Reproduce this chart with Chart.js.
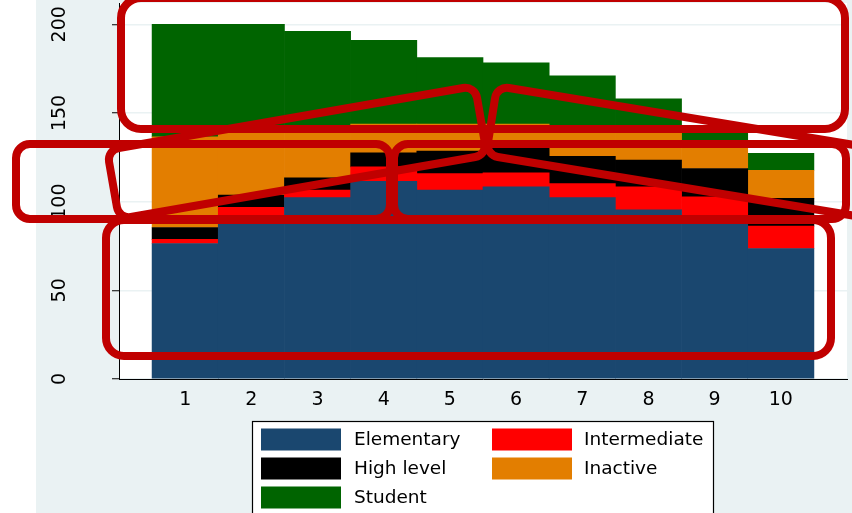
<!DOCTYPE html>
<html>
<head>
<meta charset="utf-8">
<script src="https://cdn.jsdelivr.net/npm/chart.js@4/dist/chart.umd.min.js"></script>
<style>
html, body { margin: 0; padding: 0; background: #ffffff; overflow: hidden; }
canvas { display: block; }
</style>
</head>
<body>
<canvas id="c" width="852" height="513" style="width:852px;height:513px"></canvas>
<script>
// ---- data ----
const categories = [1, 2, 3, 4, 5, 6, 7, 8, 9, 10];
const seriesNames = ['Elementary', 'Intermediate', 'High level', 'Inactive', 'Student'];
const elementary   = [76.4, 89.0, 102.3, 111.5, 106.5, 108.3, 102.3, 95.4, 89.0, 73.6];
const intermediate = [2.3, 7.8, 4.2, 8.1, 9.3, 7.9, 7.9, 12.9, 13.7, 12.6];
const highLevel    = [6.7, 6.9, 6.9, 7.9, 12.7, 13.9, 15.4, 15.1, 16.0, 15.6];
const inactive     = [51.1, 37.1, 27.4, 16.2, 15.2, 13.6, 17.4, 18.0, 14.8, 15.9];
const student      = [63.5, 59.2, 55.2, 47.3, 37.5, 34.5, 27.9, 16.5, 8.5, 9.5];
const yTicks = [0, 50, 100, 150, 200];
const seriesColors = ['#1a476f', '#ff0000', '#000000', '#e37e00', '#006400'];

const seriesValues = [elementary, intermediate, highLevel, inactive, student];
const FONT = '"DejaVu Sans", Verdana, sans-serif';

const datasets = seriesNames.map((name, k) => ({
  label: name,
  data: categories.map((c, i) => ({ x: c, y: seriesValues[k][i] })),
  backgroundColor: seriesColors[k],
  borderWidth: 0,
  categoryPercentage: 1.0,
  barPercentage: 1.0
}));

// ---- decoration: highlight outlines (page pixels) ----
const highlightShapes = [
  { pts: [[121, -2], [845, -2], [845, 129], [121, 129]], r: 20 },
  { pts: [[16, 144], [390, 144], [390, 219], [16, 219]], r: 14 },
  { pts: [[394, 144], [846, 144], [846, 219], [394, 219]], r: 14 },
  { pts: [[106, 220], [831, 220], [831, 356], [106, 356]], r: 18 },
  { pts: [[107, 150], [475, 86], [487, 155], [119, 219]], r: 12 },
  { pts: [[497, 86], [1000, 169], [989, 238], [486, 155]], r: 12 }
];

function roundedPoly(ctx, pts, r) {
  const n = pts.length;
  const mid = (a, b) => [(a[0] + b[0]) / 2, (a[1] + b[1]) / 2];
  const start = mid(pts[n - 1], pts[0]);
  ctx.beginPath();
  ctx.moveTo(start[0], start[1]);
  for (let i = 0; i < n; i++) {
    const p = pts[i], q = pts[(i + 1) % n];
    ctx.arcTo(p[0], p[1], q[0], q[1], r);
  }
  ctx.closePath();
}

const stataPlugin = {
  id: 'stataLook',
  beforeDraw(chart) {
    const ctx = chart.ctx;
    const a = chart.chartArea;
    ctx.save();
    ctx.fillStyle = '#ffffff';
    ctx.fillRect(0, 0, chart.width, chart.height);
    ctx.fillStyle = '#eaf2f3';
    ctx.fillRect(36, 0, chart.width - 36, chart.height);
    ctx.fillStyle = '#ffffff';
    ctx.fillRect(a.left, a.top, a.right - a.left, a.bottom - a.top);
    ctx.restore();
  },
  afterDraw(chart) {
    const ctx = chart.ctx;
    ctx.save();
    // legend box
    const bx = 252.5, by = 421.5, bw = 461, bh = 120;
    ctx.fillStyle = '#ffffff';
    ctx.fillRect(bx, by, bw, bh);
    ctx.strokeStyle = '#000000';
    ctx.lineWidth = 1.2;
    ctx.strokeRect(bx, by, bw, bh);
    const colSwatchX = [261, 492];
    const colTextX = [354, 584];
    const rowY = [439.5, 468.5, 497.5];
    ctx.font = '18.5px ' + FONT;
    ctx.textBaseline = 'middle';
    ctx.textAlign = 'left';
    chart.data.datasets.forEach((ds, i) => {
      const col = i % 2, row = Math.floor(i / 2);
      const y = rowY[row];
      ctx.fillStyle = ds.backgroundColor;
      ctx.fillRect(colSwatchX[col], y - 11, 80, 22);
      ctx.fillStyle = '#000000';
      ctx.fillText(ds.label, colTextX[col], y + 1);
    });
    // highlight outlines
    ctx.strokeStyle = '#c00000';
    ctx.lineWidth = 8;
    ctx.lineJoin = 'round';
    highlightShapes.forEach(s => {
      roundedPoly(ctx, s.pts, s.r);
      ctx.stroke();
    });
    ctx.restore();
  }
};

function noPad(s) {
  s.paddingTop = 0;
  s.paddingBottom = 0;
  s.paddingLeft = 0;
  s.paddingRight = 0;
}

new Chart(document.getElementById('c'), {
  type: 'bar',
  data: { datasets },
  plugins: [stataPlugin],
  options: {
    responsive: false,
    animation: false,
    layout: { padding: { left: 0, right: 5, top: 3, bottom: 94 } },
    plugins: {
      legend: { display: false },
      tooltip: { enabled: false },
      title: { display: false }
    },
    scales: {
      x: {
        type: 'linear',
        stacked: true,
        min: 0,
        max: 11,
        offset: false,
        grid: { display: false, drawTicks: false },
        border: { display: true, color: '#000000', width: 1 },
        ticks: {
          stepSize: 1,
          autoSkip: false,
          maxRotation: 0,
          padding: 10,
          color: '#000000',
          font: { family: FONT, size: 19 },
          callback: (v) => categories.includes(v) ? String(v) : ''
        },
        afterFit: (s) => { s.height = 40; noPad(s); }
      },
      y: {
        stacked: true,
        min: 0,
        max: 212,
        afterBuildTicks: (s) => { s.ticks = yTicks.map(v => ({ value: v })); },
        grid: { color: '#eaf2f3', lineWidth: 1.5, tickColor: '#000000', tickWidth: 1, tickLength: 7, drawTicks: true },
        border: { display: true, color: '#000000', width: 1 },
        ticks: {
          minRotation: 90,
          maxRotation: 90,
          crossAlign: 'center',
          padding: 34,
          color: '#000000',
          font: { family: FONT, size: 19 }
        },
        afterFit: (s) => { s.width = 119; noPad(s); }
      }
    }
  }
});
</script>
</body>
</html>
